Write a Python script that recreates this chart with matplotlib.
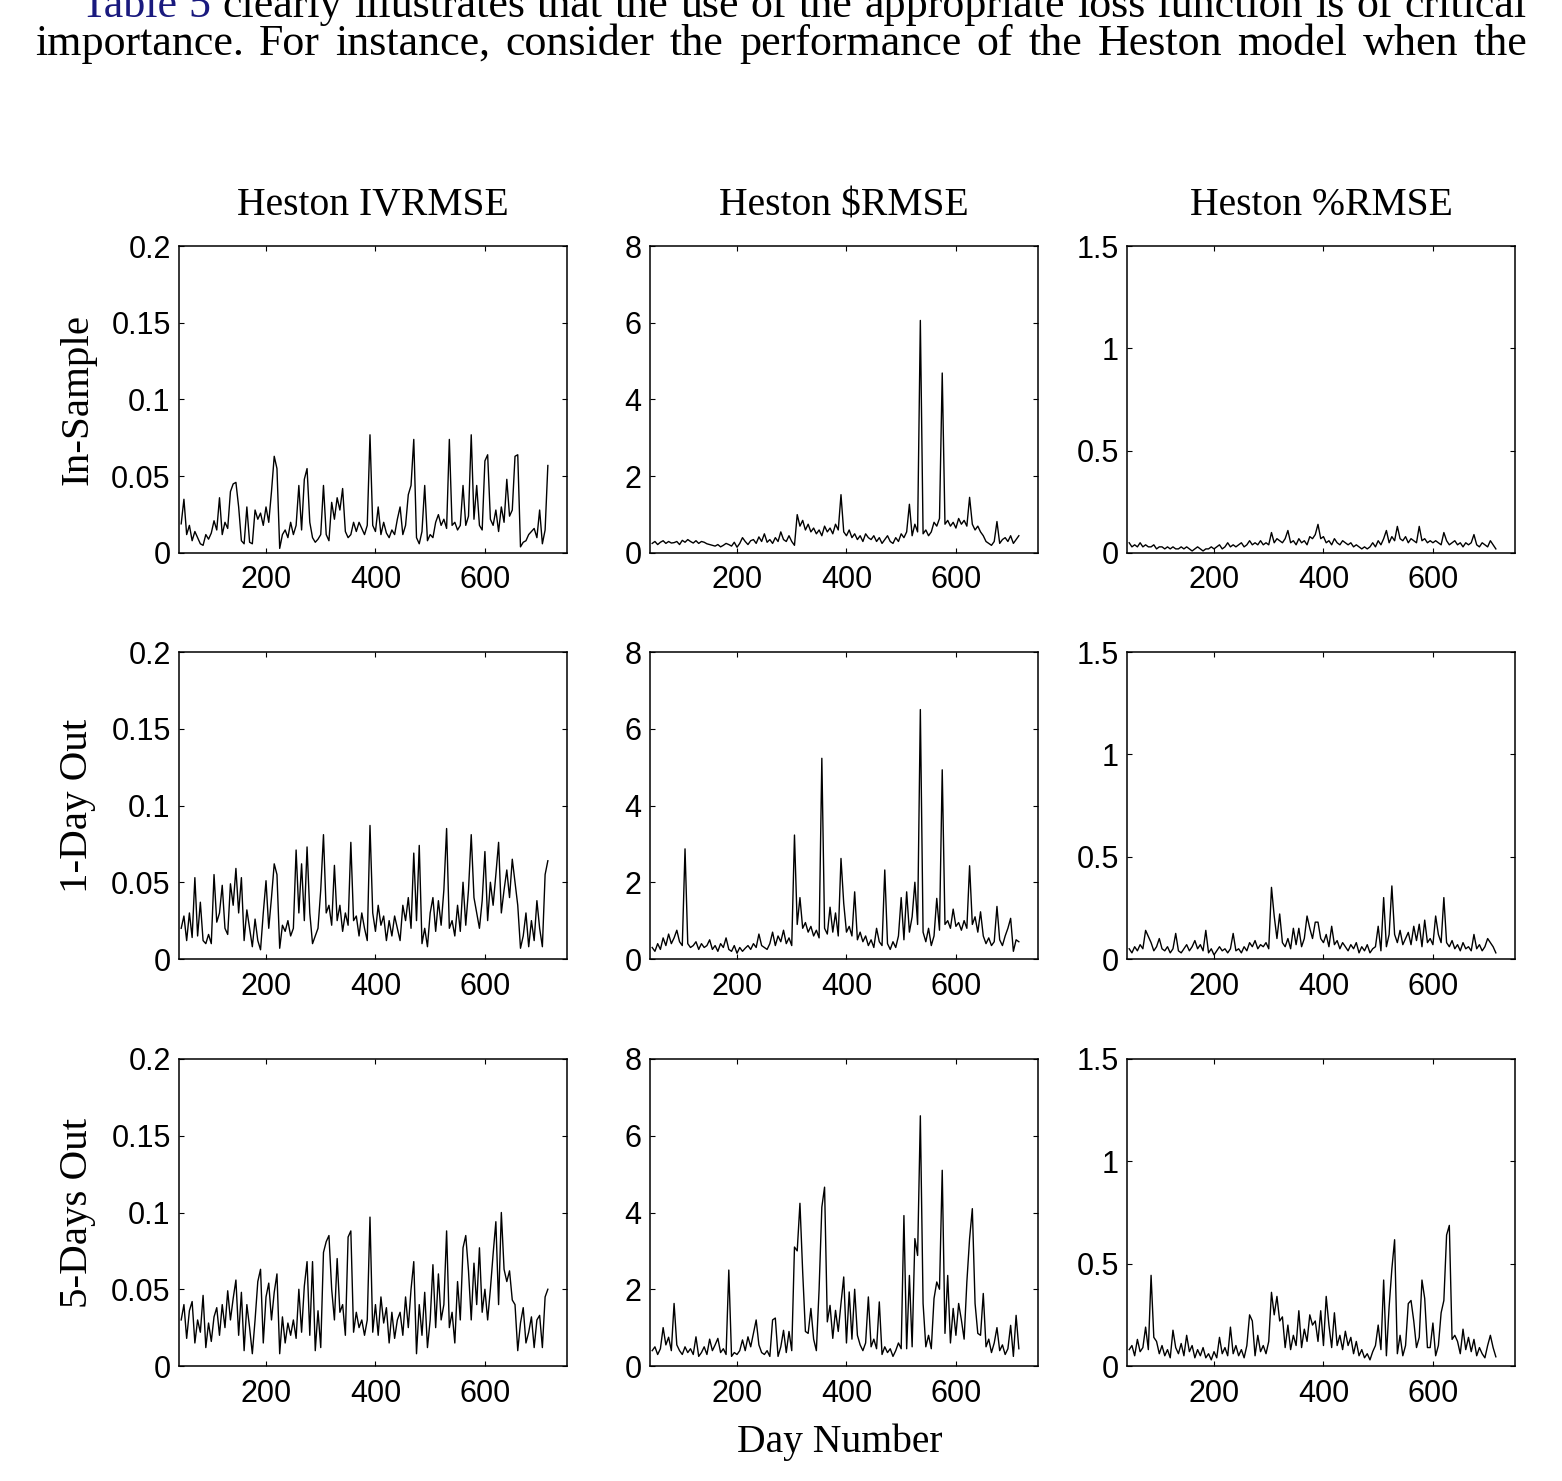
import matplotlib
matplotlib.use('Agg')
import matplotlib.pyplot as plt
import numpy as np

# day numbers, one reading every 5 days
days = np.arange(45, 720, 5)

# Heston IVRMSE
iv_in = [0.019, 0.035, 0.012, 0.018, 0.008, 0.014, 0.010, 0.006, 0.005, 0.012,
         0.009, 0.013, 0.021, 0.015, 0.036, 0.012, 0.020, 0.016, 0.040, 0.045,
         0.046, 0.030, 0.008, 0.006, 0.030, 0.007, 0.006, 0.028, 0.022, 0.026,
         0.018, 0.030, 0.020, 0.040, 0.063, 0.055, 0.003, 0.012, 0.015, 0.010,
         0.020, 0.012, 0.018, 0.044, 0.015, 0.048, 0.055, 0.020, 0.010, 0.007,
         0.009, 0.012, 0.044, 0.012, 0.008, 0.033, 0.022, 0.036, 0.028, 0.042,
         0.014, 0.010, 0.012, 0.020, 0.014, 0.020, 0.016, 0.012, 0.018, 0.077,
         0.018, 0.014, 0.030, 0.012, 0.020, 0.013, 0.010, 0.015, 0.012, 0.022,
         0.030, 0.012, 0.018, 0.038, 0.044, 0.074, 0.010, 0.006, 0.014, 0.044,
         0.008, 0.012, 0.010, 0.020, 0.025, 0.018, 0.022, 0.016, 0.074, 0.018,
         0.020, 0.015, 0.018, 0.044, 0.018, 0.024, 0.077, 0.022, 0.044, 0.018,
         0.015, 0.060, 0.064, 0.022, 0.018, 0.028, 0.014, 0.030, 0.020, 0.048,
         0.024, 0.028, 0.063, 0.064, 0.004, 0.007, 0.008, 0.012, 0.014, 0.016,
         0.010, 0.028, 0.006, 0.015, 0.057]
iv_1d = [0.020, 0.028, 0.012, 0.030, 0.014, 0.053, 0.015, 0.037, 0.012, 0.010,
         0.016, 0.010, 0.055, 0.024, 0.030, 0.048, 0.020, 0.016, 0.049, 0.035,
         0.059, 0.030, 0.053, 0.012, 0.032, 0.020, 0.008, 0.026, 0.012, 0.006,
         0.030, 0.051, 0.020, 0.040, 0.062, 0.055, 0.007, 0.022, 0.018, 0.025,
         0.015, 0.020, 0.071, 0.030, 0.062, 0.025, 0.073, 0.030, 0.010, 0.015,
         0.020, 0.045, 0.081, 0.030, 0.035, 0.022, 0.061, 0.025, 0.035, 0.018,
         0.030, 0.022, 0.076, 0.025, 0.028, 0.015, 0.030, 0.020, 0.012, 0.087,
         0.030, 0.018, 0.035, 0.022, 0.028, 0.012, 0.025, 0.015, 0.028, 0.020,
         0.012, 0.035, 0.025, 0.040, 0.020, 0.069, 0.025, 0.074, 0.010, 0.020,
         0.008, 0.030, 0.040, 0.018, 0.038, 0.022, 0.045, 0.085, 0.020, 0.025,
         0.015, 0.035, 0.018, 0.050, 0.022, 0.045, 0.081, 0.040, 0.030, 0.020,
         0.038, 0.070, 0.025, 0.050, 0.035, 0.055, 0.076, 0.030, 0.045, 0.058,
         0.040, 0.065, 0.050, 0.035, 0.007, 0.015, 0.030, 0.008, 0.025, 0.012,
         0.038, 0.020, 0.008, 0.055, 0.064]
iv_5d = [0.030, 0.040, 0.018, 0.036, 0.042, 0.015, 0.030, 0.022, 0.046, 0.012,
         0.028, 0.016, 0.032, 0.038, 0.020, 0.040, 0.025, 0.049, 0.030, 0.044,
         0.056, 0.020, 0.048, 0.010, 0.040, 0.025, 0.008, 0.030, 0.055, 0.063,
         0.015, 0.045, 0.054, 0.030, 0.048, 0.060, 0.008, 0.032, 0.015, 0.028,
         0.020, 0.030, 0.018, 0.050, 0.022, 0.052, 0.068, 0.020, 0.068, 0.010,
         0.036, 0.012, 0.074, 0.081, 0.085, 0.050, 0.030, 0.070, 0.035, 0.040,
         0.020, 0.084, 0.088, 0.022, 0.035, 0.025, 0.030, 0.020, 0.030, 0.097,
         0.022, 0.040, 0.020, 0.045, 0.028, 0.038, 0.015, 0.035, 0.018, 0.030,
         0.035, 0.020, 0.045, 0.025, 0.050, 0.068, 0.008, 0.040, 0.020, 0.048,
         0.012, 0.030, 0.066, 0.025, 0.060, 0.030, 0.040, 0.088, 0.025, 0.035,
         0.015, 0.055, 0.030, 0.077, 0.085, 0.062, 0.030, 0.067, 0.040, 0.077,
         0.035, 0.050, 0.030, 0.050, 0.073, 0.094, 0.040, 0.100, 0.063, 0.055,
         0.062, 0.043, 0.040, 0.010, 0.028, 0.038, 0.015, 0.022, 0.032, 0.012,
         0.030, 0.033, 0.012, 0.045, 0.050]

# Heston $RMSE
dol_in = [0.25, 0.30, 0.22, 0.28, 0.32, 0.25, 0.30, 0.26, 0.27, 0.30,
          0.22, 0.33, 0.28, 0.35, 0.30, 0.26, 0.32, 0.25, 0.30, 0.28,
          0.24, 0.22, 0.20, 0.18, 0.22, 0.16, 0.20, 0.25, 0.22, 0.18,
          0.28, 0.15, 0.25, 0.40, 0.30, 0.22, 0.32, 0.35, 0.25, 0.42,
          0.30, 0.50, 0.28, 0.35, 0.25, 0.40, 0.30, 0.55, 0.35, 0.30,
          0.45, 0.30, 0.20, 1.00, 0.70, 0.85, 0.60, 0.75, 0.55, 0.65,
          0.50, 0.60, 0.45, 0.70, 0.55, 0.65, 0.50, 0.75, 0.60, 1.52,
          0.55, 0.45, 0.60, 0.40, 0.50, 0.35, 0.45, 0.30, 0.50, 0.40,
          0.35, 0.45, 0.30, 0.40, 0.25, 0.35, 0.45, 0.30, 0.25, 0.40,
          0.30, 0.50, 0.40, 0.55, 1.27, 0.45, 0.75, 0.55, 6.06, 0.50,
          0.60, 0.45, 0.55, 0.80, 0.70, 0.90, 4.69, 0.75, 0.85, 0.70,
          0.80, 0.65, 0.90, 0.75, 0.85, 0.70, 1.45, 0.75, 0.60, 0.70,
          0.55, 0.45, 0.30, 0.25, 0.20, 0.30, 0.82, 0.25, 0.35, 0.40,
          0.30, 0.45, 0.25, 0.35, 0.45]
dol_1d = [0.30, 0.20, 0.40, 0.25, 0.55, 0.35, 0.65, 0.40, 0.55, 0.75,
          0.45, 0.35, 2.87, 0.40, 0.30, 0.35, 0.45, 0.25, 0.40, 0.30,
          0.35, 0.50, 0.25, 0.35, 0.20, 0.40, 0.30, 0.55, 0.25, 0.20,
          0.35, 0.15, 0.30, 0.20, 0.28, 0.35, 0.25, 0.40, 0.30, 0.65,
          0.35, 0.30, 0.25, 0.40, 0.70, 0.35, 0.60, 0.45, 0.75, 0.40,
          0.55, 0.35, 3.23, 0.90, 1.60, 0.80, 0.95, 0.70, 0.85, 0.60,
          0.75, 0.55, 5.23, 0.80, 0.65, 1.35, 0.70, 1.20, 0.60, 2.62,
          1.45, 0.70, 0.85, 0.60, 1.75, 0.50, 0.70, 0.45, 0.60, 0.35,
          0.50, 0.30, 0.80, 0.45, 0.35, 2.32, 0.40, 0.25, 0.45, 0.30,
          0.60, 1.60, 0.50, 1.75, 0.70, 1.10, 2.00, 0.90, 6.50, 0.70,
          0.45, 0.80, 0.35, 0.60, 1.58, 0.75, 4.93, 0.90, 1.00, 0.80,
          1.30, 0.85, 0.95, 0.75, 1.00, 0.80, 2.43, 0.90, 1.10, 0.70,
          1.23, 0.60, 0.40, 0.55, 0.35, 0.45, 1.37, 0.50, 0.35, 0.60,
          0.80, 1.06, 0.20, 0.50, 0.45]
dol_5d = [0.40, 0.50, 0.30, 0.45, 1.00, 0.55, 0.75, 0.40, 1.63, 0.55,
          0.40, 0.30, 0.50, 0.35, 0.45, 0.30, 0.76, 0.25, 0.35, 0.50,
          0.30, 0.70, 0.40, 0.55, 0.72, 0.35, 0.45, 0.30, 2.50, 0.25,
          0.35, 0.30, 0.40, 0.68, 0.40, 0.76, 0.50, 0.85, 1.20, 0.55,
          0.35, 0.30, 0.40, 0.25, 1.20, 1.25, 0.25, 0.50, 0.93, 0.35,
          0.90, 0.40, 3.10, 3.00, 4.24, 2.45, 0.90, 0.85, 1.50, 0.70,
          0.40, 2.00, 4.14, 4.66, 1.15, 1.58, 0.72, 1.45, 0.90, 1.63,
          2.32, 0.60, 1.93, 0.70, 2.00, 0.80, 0.55, 0.40, 0.60, 1.80,
          0.50, 0.70, 0.45, 1.67, 0.30, 0.50, 0.35, 0.45, 0.25, 0.40,
          0.60, 0.45, 3.92, 0.45, 2.36, 0.50, 3.32, 2.88, 6.52, 1.63,
          0.50, 0.80, 0.45, 1.76, 2.19, 2.00, 5.10, 0.85, 2.36, 0.60,
          1.50, 0.80, 1.63, 1.20, 0.70, 2.19, 3.32, 4.10, 1.63, 0.85,
          0.80, 1.89, 0.50, 0.70, 0.35, 0.60, 1.00, 0.40, 0.55, 0.30,
          0.45, 1.06, 0.25, 1.32, 0.45]

# Heston %RMSE
pct_in = [0.05, 0.03, 0.04, 0.03, 0.05, 0.03, 0.04, 0.03, 0.03, 0.04,
          0.02, 0.03, 0.03, 0.02, 0.03, 0.02, 0.03, 0.02, 0.02, 0.03,
          0.02, 0.03, 0.02, 0.01, 0.02, 0.03, 0.02, 0.01, 0.02, 0.02,
          0.03, 0.02, 0.03, 0.04, 0.02, 0.03, 0.05, 0.03, 0.04, 0.03,
          0.04, 0.05, 0.03, 0.04, 0.06, 0.04, 0.05, 0.04, 0.06, 0.04,
          0.05, 0.04, 0.10, 0.05, 0.07, 0.06, 0.05, 0.07, 0.11, 0.05,
          0.06, 0.04, 0.07, 0.05, 0.06, 0.04, 0.08, 0.07, 0.09, 0.14,
          0.07, 0.08, 0.05, 0.06, 0.04, 0.07, 0.05, 0.04, 0.06, 0.05,
          0.04, 0.05, 0.03, 0.04, 0.03, 0.02, 0.03, 0.02, 0.03, 0.05,
          0.03, 0.06, 0.04, 0.07, 0.11, 0.05, 0.08, 0.06, 0.13, 0.07,
          0.06, 0.08, 0.05, 0.07, 0.06, 0.05, 0.13, 0.06, 0.07, 0.05,
          0.06, 0.05, 0.06, 0.05, 0.04, 0.10, 0.06, 0.04, 0.05, 0.06,
          0.04, 0.05, 0.03, 0.05, 0.04, 0.05, 0.09, 0.04, 0.03, 0.05,
          0.04, 0.03, 0.06, 0.04, 0.02]
pct_1d = [0.05, 0.03, 0.06, 0.04, 0.07, 0.05, 0.14, 0.11, 0.08, 0.04,
          0.06, 0.10, 0.05, 0.04, 0.06, 0.03, 0.05, 0.125, 0.04, 0.03,
          0.05, 0.07, 0.04, 0.06, 0.09, 0.05, 0.07, 0.04, 0.14, 0.03,
          0.05, 0.02, 0.04, 0.06, 0.04, 0.05, 0.03, 0.05, 0.125, 0.04,
          0.05, 0.03, 0.06, 0.04, 0.08, 0.06, 0.09, 0.05, 0.07, 0.06,
          0.08, 0.05, 0.35, 0.21, 0.10, 0.22, 0.08, 0.06, 0.10, 0.05,
          0.15, 0.07, 0.15, 0.06, 0.10, 0.21, 0.15, 0.10, 0.18, 0.18,
          0.10, 0.08, 0.12, 0.06, 0.16, 0.07, 0.09, 0.05, 0.08, 0.06,
          0.04, 0.07, 0.05, 0.08, 0.03, 0.06, 0.04, 0.07, 0.03, 0.05,
          0.06, 0.16, 0.04, 0.30, 0.06, 0.12, 0.357, 0.12, 0.08, 0.14,
          0.07, 0.10, 0.13, 0.07, 0.16, 0.09, 0.17, 0.06, 0.19, 0.08,
          0.10, 0.07, 0.21, 0.12, 0.08, 0.30, 0.08, 0.06, 0.09, 0.05,
          0.07, 0.04, 0.08, 0.05, 0.06, 0.04, 0.12, 0.05, 0.07, 0.04,
          0.06, 0.10, 0.08, 0.06, 0.03]
pct_5d = [0.08, 0.10, 0.05, 0.13, 0.07, 0.09, 0.19, 0.08, 0.443, 0.14,
          0.12, 0.06, 0.10, 0.05, 0.08, 0.04, 0.175, 0.09, 0.06, 0.11,
          0.05, 0.15, 0.07, 0.10, 0.04, 0.08, 0.05, 0.09, 0.04, 0.06,
          0.03, 0.07, 0.04, 0.14, 0.06, 0.09, 0.05, 0.19, 0.06, 0.10,
          0.05, 0.08, 0.04, 0.10, 0.25, 0.22, 0.05, 0.15, 0.07, 0.10,
          0.06, 0.12, 0.36, 0.25, 0.34, 0.22, 0.24, 0.09, 0.20, 0.08,
          0.15, 0.10, 0.27, 0.09, 0.18, 0.12, 0.25, 0.20, 0.22, 0.12,
          0.27, 0.10, 0.34, 0.20, 0.09, 0.26, 0.10, 0.15, 0.08, 0.17,
          0.10, 0.14, 0.06, 0.12, 0.05, 0.08, 0.04, 0.06, 0.03, 0.07,
          0.10, 0.20, 0.08, 0.42, 0.05, 0.29, 0.475, 0.617, 0.06, 0.15,
          0.05, 0.10, 0.305, 0.32, 0.22, 0.09, 0.14, 0.42, 0.33, 0.09,
          0.09, 0.21, 0.05, 0.10, 0.26, 0.32, 0.64, 0.687, 0.13, 0.15,
          0.12, 0.06, 0.18, 0.08, 0.14, 0.07, 0.13, 0.05, 0.09, 0.06,
          0.04, 0.10, 0.15, 0.09, 0.045]

col_titles = ['Heston IVRMSE', 'Heston $RMSE', 'Heston %RMSE']
row_labels = ['In-Sample', '1-Day Out', '5-Days Out']
series = [[iv_in, dol_in, pct_in],
          [iv_1d, dol_1d, pct_1d],
          [iv_5d, dol_5d, pct_5d]]
yticks = [[0, 0.05, 0.1, 0.15, 0.2], [0, 2, 4, 6, 8], [0, 0.5, 1, 1.5]]
ytick_labels = [['0', '0.05', '0.1', '0.15', '0.2'], ['0', '2', '4', '6', '8'],
                ['0', '0.5', '1', '1.5']]
xticks = [200, 400, 600]

W, H = 1562, 1481
fig = plt.figure(figsize=(W / 100, H / 100), dpi=100)

serif = 'Liberation Serif'
sans = 'Liberation Sans'

lefts = [179, 650, 1127]
tops = [246, 652, 1059]
aw, ah = 388, 307

for i in range(3):
    for j in range(3):
        ax = fig.add_axes([lefts[j] / W, 1 - (tops[i] + ah) / H, aw / W, ah / H])
        ax.plot(days, series[i][j], color='black', lw=1.0)
        ax.set_xlim(41, 750)
        ax.set_ylim(yticks[j][0], yticks[j][-1])
        ax.set_xticks(xticks)
        ax.set_xticklabels([str(t) for t in xticks])
        ax.set_yticks(yticks[j])
        ax.set_yticklabels(ytick_labels[j])
        ax.tick_params(direction='in', top=True, right=True, length=3.5, width=0.8,
                       labelsize=22)
        ax.tick_params(axis='y', pad=6)
        ax.tick_params(axis='x', pad=9)
        for lab in ax.get_xticklabels() + ax.get_yticklabels():
            lab.set_family(sans)
        for s in ax.spines.values():
            s.set_linewidth(1.1)

# column titles, row labels, x label
for j in range(3):
    fig.text((lefts[j] + aw / 2) / W, 1 - 215 / H, col_titles[j], ha='center',
             va='baseline', fontsize=28.5, family=serif)
for i in range(3):
    fig.text(78 / W, 1 - (tops[i] + ah / 2) / H, row_labels[i], rotation=90,
             ha='center', va='center', fontsize=29.5, family=serif)
fig.text(840 / W, 1 - 1452 / H, 'Day Number', ha='center', va='baseline',
         fontsize=28.5, family=serif)

# paragraph lines above the figure (justified, the first one runs off the top)
renderer = fig.canvas.get_renderer()

def text_width(s, size):
    t = fig.text(0, 0, s, fontsize=size, family=serif)
    w = t.get_window_extent(renderer).width
    t.remove()
    return w

line1 = 'Table 5 clearly illustrates that the use of the appropriate loss function is of critical'
line2 = 'importance. For instance, consider the performance of the Heston model when the'
size = 10 * (1527 - 35) / text_width(line2, 10) * 0.97

for line, x0, base in [(line1, 80, 17), (line2, 35, 55)]:
    words = line.split(' ')
    widths = [text_width(w, size) for w in words]
    gap = (1527 - x0 - sum(widths)) / (len(words) - 1)
    x = x0
    for k, w in enumerate(words):
        c = '#1a1a7e' if line is line1 and k < 2 else 'black'
        fig.text(x / W, 1 - base / H, w, fontsize=size, family=serif,
                 va='baseline', color=c)
        x += widths[k] + gap

fig.savefig('out.png', dpi=100)
